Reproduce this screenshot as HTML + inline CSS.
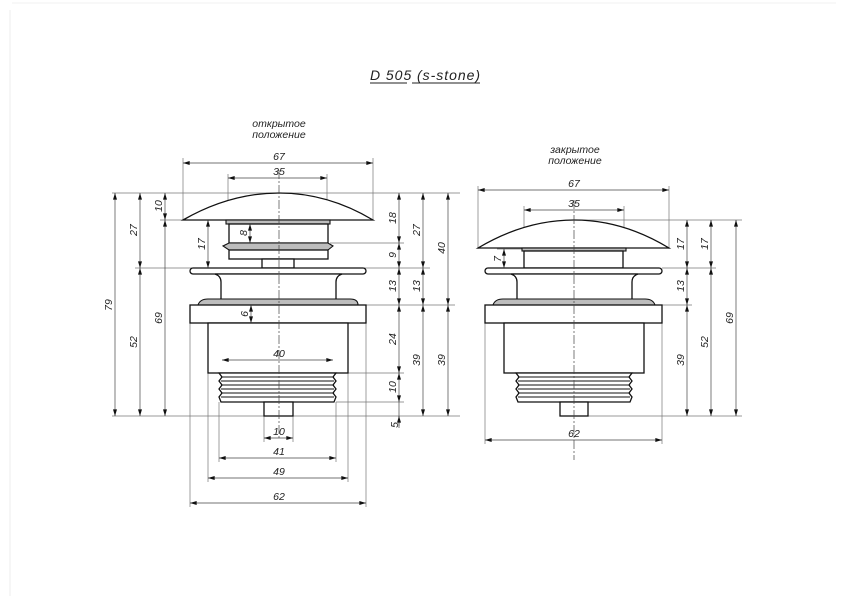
<!DOCTYPE html>
<html><head><meta charset="utf-8"><style>
html,body{margin:0;padding:0;background:#fff}
svg{display:block}
text{font-family:"Liberation Sans","DejaVu Sans",sans-serif;font-style:italic;font-size:10.5px;fill:#222}
.o{stroke:#111;stroke-width:1.3;fill:#fff}
.g{stroke:#111;stroke-width:1.1;fill:#bdbdbd}
.t{stroke:#777;stroke-width:0.7;fill:none}
.d{stroke:#444;stroke-width:0.7;fill:none}
.c{stroke:#444;stroke-width:0.7;fill:none;stroke-dasharray:9 2 2 2}
</style></head><body>
<svg width="842" height="596" viewBox="0 0 842 596" xmlns="http://www.w3.org/2000/svg">
<defs>
<marker id="a" viewBox="0 0 10 6" refX="10" refY="3" markerWidth="7" markerHeight="4" orient="auto-start-reverse" markerUnits="userSpaceOnUse"><path d="M0,0L10,3L0,6z" fill="#111"/></marker>
</defs>
<line x1="10" y1="10" x2="10" y2="596" stroke="#eee" stroke-width="1"/>
<line x1="12" y1="3" x2="836" y2="3" stroke="#f2f2f2" stroke-width="1"/>

<text x="370" y="80" style="font-size:14px" textLength="110" lengthAdjust="spacing">D 505 (s-stone)</text>
<line x1="370" y1="83" x2="407" y2="83" stroke="#222" stroke-width="0.9"/>
<line x1="412" y1="83" x2="480" y2="83" stroke="#222" stroke-width="0.9"/>
<text x="279" y="127" text-anchor="middle">открытое</text>
<text x="279" y="138" text-anchor="middle">положение</text>
<text x="575" y="153" text-anchor="middle">закрытое</text>
<text x="575" y="164" text-anchor="middle">положение</text>

<!-- ===== LEFT drawing ===== -->
<g>
<path class="t" d="M112 193H460 M112 416H460 M160 220H183 M135 268H430 M366 305H455 M330 243H404 M348 373H404 M336 402H404 M183 158V220 M373 158V220 M228 174V222 M327 174V222 M190 323V507 M366 323V507 M208 373V482 M348 373V482 M219 402V462 M336 402V462 M264 416V442 M293 416V442"/>
<path class="o" d="M183 220 Q230 193 279 193 Q328 193 373 220 Z"/>
<rect class="g" x="226" y="220" width="104" height="4"/>
<rect class="o" x="229" y="224" width="99" height="19"/>
<path class="g" d="M229 243H328L333 246L328 250H229L223 246Z"/>
<rect class="o" x="229" y="250" width="99" height="9"/>
<rect class="o" x="262" y="259" width="32" height="9"/>
<rect class="o" x="190" y="268" width="176" height="6" rx="3"/>
<path class="o" d="M215 274 Q221 276 221 282 V300 H336 V282 Q336 276 342 274 Z"/>
<path class="g" d="M198 305 Q200 299 208 299 H350 Q358 299 358 305 Z"/>
<rect class="o" x="190" y="305" width="176" height="18"/>
<rect class="o" x="208" y="323" width="140" height="50"/>
<path class="o" d="M219 373H336L333 377L336 381L333 385L336 389L333 393L336 397L334 402H221L219 397L222 393L219 389L222 385L219 381L222 377Z"/>
<path d="M221 377H334M221 381H334M221 385H334M221 389H334M221 393H334M221 397H334" stroke="#111" stroke-width="1"/>
<rect class="o" x="264" y="402" width="29" height="14"/>
<line class="c" x1="279" y1="170" x2="279" y2="440"/>
<line class="d" x1="183" y1="163" x2="373" y2="163" marker-start="url(#a)" marker-end="url(#a)"/><text x="279" y="160" text-anchor="middle">67</text>
<line class="d" x1="228" y1="178" x2="327" y2="178" marker-start="url(#a)" marker-end="url(#a)"/><text x="279" y="175" text-anchor="middle">35</text>
<line class="d" x1="222" y1="360" x2="333" y2="360" marker-start="url(#a)" marker-end="url(#a)"/><text x="279" y="357" text-anchor="middle">40</text>
<line class="d" x1="264" y1="438" x2="293" y2="438" marker-start="url(#a)" marker-end="url(#a)"/><text x="279" y="435" text-anchor="middle">10</text>
<line class="d" x1="219" y1="458" x2="336" y2="458" marker-start="url(#a)" marker-end="url(#a)"/><text x="279" y="455" text-anchor="middle">41</text>
<line class="d" x1="208" y1="478" x2="348" y2="478" marker-start="url(#a)" marker-end="url(#a)"/><text x="279" y="475" text-anchor="middle">49</text>
<line class="d" x1="190" y1="503" x2="366" y2="503" marker-start="url(#a)" marker-end="url(#a)"/><text x="279" y="500" text-anchor="middle">62</text>
<line class="d" x1="115" y1="193" x2="115" y2="416" marker-start="url(#a)" marker-end="url(#a)"/><text transform="translate(112,305) rotate(-90)" text-anchor="middle">79</text>
<line class="d" x1="140" y1="193" x2="140" y2="268" marker-start="url(#a)" marker-end="url(#a)"/><text transform="translate(137,230) rotate(-90)" text-anchor="middle">27</text>
<line class="d" x1="140" y1="268" x2="140" y2="416" marker-start="url(#a)" marker-end="url(#a)"/><text transform="translate(137,342) rotate(-90)" text-anchor="middle">52</text>
<line class="d" x1="165" y1="193" x2="165" y2="220" marker-start="url(#a)" marker-end="url(#a)"/><text transform="translate(162,206) rotate(-90)" text-anchor="middle">10</text>
<line class="d" x1="165" y1="220" x2="165" y2="416" marker-start="url(#a)" marker-end="url(#a)"/><text transform="translate(162,318) rotate(-90)" text-anchor="middle">69</text>
<line class="d" x1="208" y1="220" x2="208" y2="268" marker-start="url(#a)" marker-end="url(#a)"/><text transform="translate(205,244) rotate(-90)" text-anchor="middle">17</text>
<line class="d" x1="250" y1="224" x2="250" y2="243" marker-start="url(#a)" marker-end="url(#a)"/><text transform="translate(247,233) rotate(-90)" text-anchor="middle">8</text>
<line class="d" x1="251" y1="305" x2="251" y2="323" marker-start="url(#a)" marker-end="url(#a)"/><text transform="translate(248,314) rotate(-90)" text-anchor="middle">6</text>
<line class="d" x1="399" y1="193" x2="399" y2="243" marker-start="url(#a)" marker-end="url(#a)"/><text transform="translate(396,218) rotate(-90)" text-anchor="middle">18</text>
<line class="d" x1="399" y1="243" x2="399" y2="268" marker-start="url(#a)" marker-end="url(#a)"/><text transform="translate(396,255) rotate(-90)" text-anchor="middle">9</text>
<line class="d" x1="399" y1="268" x2="399" y2="305" marker-start="url(#a)" marker-end="url(#a)"/><text transform="translate(396,286) rotate(-90)" text-anchor="middle">13</text>
<line class="d" x1="399" y1="305" x2="399" y2="373" marker-start="url(#a)" marker-end="url(#a)"/><text transform="translate(396,339) rotate(-90)" text-anchor="middle">24</text>
<line class="d" x1="399" y1="373" x2="399" y2="402" marker-start="url(#a)" marker-end="url(#a)"/><text transform="translate(396,387) rotate(-90)" text-anchor="middle">10</text>
<line class="d" x1="399" y1="402" x2="399" y2="428"/><line class="d" x1="399" y1="426" x2="399" y2="416" marker-end="url(#a)"/><text transform="translate(398,425) rotate(-90)" text-anchor="middle">5</text>
<line class="d" x1="423" y1="193" x2="423" y2="268" marker-start="url(#a)" marker-end="url(#a)"/><text transform="translate(420,230) rotate(-90)" text-anchor="middle">27</text>
<line class="d" x1="423" y1="268" x2="423" y2="305" marker-start="url(#a)" marker-end="url(#a)"/><text transform="translate(420,286) rotate(-90)" text-anchor="middle">13</text>
<line class="d" x1="423" y1="305" x2="423" y2="416" marker-start="url(#a)" marker-end="url(#a)"/><text transform="translate(420,360) rotate(-90)" text-anchor="middle">39</text>
<line class="d" x1="448" y1="193" x2="448" y2="305" marker-start="url(#a)" marker-end="url(#a)"/><text transform="translate(445,248) rotate(-90)" text-anchor="middle">40</text>
<line class="d" x1="448" y1="305" x2="448" y2="416" marker-start="url(#a)" marker-end="url(#a)"/><text transform="translate(445,360) rotate(-90)" text-anchor="middle">39</text>
</g>

<!-- ===== RIGHT drawing ===== -->
<g>
<path class="t" d="M574 220H742 M588 416H742 M662 268H716 M662 305H692 M478 186V249 M669 186V249 M524 206V251 M624 206V251 M485 323V444 M662 323V444 M497 249H522 M497 268H517"/>
<path class="o" d="M478 248 Q525 220 574 220 Q623 220 669 248 Z"/>
<rect class="g" x="522" y="248" width="104" height="3"/>
<rect class="o" x="524" y="251" width="99" height="17"/>
<rect class="o" x="485" y="268" width="177" height="6" rx="3"/>
<path class="o" d="M511 274 Q517 276 517 282 V300 H632 V282 Q632 276 638 274 Z"/>
<path class="g" d="M493 305 Q495 299 503 299 H645 Q653 299 655 305 Z"/>
<rect class="o" x="485" y="305" width="177" height="18"/>
<rect class="o" x="504" y="323" width="140" height="50"/>
<path class="o" d="M516 373H632L629 377L632 381L629 385L632 389L629 393L632 397L630 402H518L516 397L519 393L516 389L519 385L516 381L519 377Z"/>
<path d="M518 377H630M518 381H630M518 385H630M518 389H630M518 393H630M518 397H630" stroke="#111" stroke-width="1"/>
<rect class="o" x="560" y="402" width="28" height="14"/>
<line class="c" x1="574" y1="200" x2="574" y2="460"/>
<line class="d" x1="478" y1="190" x2="669" y2="190" marker-start="url(#a)" marker-end="url(#a)"/><text x="574" y="187" text-anchor="middle">67</text>
<line class="d" x1="524" y1="210" x2="624" y2="210" marker-start="url(#a)" marker-end="url(#a)"/><text x="574" y="207" text-anchor="middle">35</text>
<line class="d" x1="485" y1="440" x2="662" y2="440" marker-start="url(#a)" marker-end="url(#a)"/><text x="574" y="437" text-anchor="middle">62</text>
<line class="d" x1="504" y1="249" x2="504" y2="268" marker-start="url(#a)" marker-end="url(#a)"/><text transform="translate(501,259) rotate(-90)" text-anchor="middle">7</text>
<line class="d" x1="687" y1="220" x2="687" y2="268" marker-start="url(#a)" marker-end="url(#a)"/><text transform="translate(684,244) rotate(-90)" text-anchor="middle">17</text>
<line class="d" x1="687" y1="268" x2="687" y2="305" marker-start="url(#a)" marker-end="url(#a)"/><text transform="translate(684,286) rotate(-90)" text-anchor="middle">13</text>
<line class="d" x1="687" y1="305" x2="687" y2="416" marker-start="url(#a)" marker-end="url(#a)"/><text transform="translate(684,360) rotate(-90)" text-anchor="middle">39</text>
<line class="d" x1="711" y1="220" x2="711" y2="268" marker-start="url(#a)" marker-end="url(#a)"/><text transform="translate(708,244) rotate(-90)" text-anchor="middle">17</text>
<line class="d" x1="711" y1="268" x2="711" y2="416" marker-start="url(#a)" marker-end="url(#a)"/><text transform="translate(708,342) rotate(-90)" text-anchor="middle">52</text>
<line class="d" x1="736" y1="220" x2="736" y2="416" marker-start="url(#a)" marker-end="url(#a)"/><text transform="translate(733,318) rotate(-90)" text-anchor="middle">69</text>
</g>
</svg>
</body></html>
